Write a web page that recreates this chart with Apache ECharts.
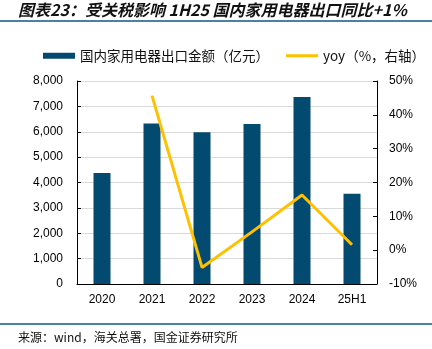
<!DOCTYPE html>
<html><head><meta charset="utf-8">
<script src="https://cdn.jsdelivr.net/npm/echarts@6/dist/echarts.min.js"></script>
<style>html,body{margin:0;padding:0;background:#fff}#c{width:432px;height:349px}</style>
</head><body><div id="c"></div>
<script>
var categories = ['2020','2021','2022','2023','2024','25H1'];
var exportValues = [4370, 6330, 5980, 6310, 7370, 3560];
var yoyValues = [null, 45.7, -5.1, 5.4, 16.3, 1.6];
var leftTicks = [0, 1000, 2000, 3000, 4000, 5000, 6000, 7000, 8000];
var rightTicks = [-10, 0, 10, 20, 30, 40, 50];
var barName = '国内家用电器出口金额（亿元）';
var lineName = 'yoy（%，右轴）';

var chart = echarts.init(document.getElementById('c'));
var axisFont = {fontFamily: 'Liberation Sans, Arial', fontSize: 12, color: '#000'};
chart.setOption({
  animation: false,
  textStyle: {fontFamily: 'Liberation Sans, Noto Sans CJK SC'},
  graphic: [
    {type: 'text', left: 18, top: 2, style: {text: '图表23：受关税影响 1H25 国内家用电器出口同比+1%', font: 'italic bold 16px "Noto Sans CJK SC"', fill: '#111'}},
    {type: 'rect', shape: {x: 0, y: 20, width: 432, height: 2}, style: {fill: '#4c7fa0'}},
    {type: 'rect', shape: {x: 0, y: 323, width: 432, height: 2}, style: {fill: '#4c7fa0'}},
    {type: 'text', left: 18, top: 331, style: {text: '来源：wind，海关总署，国金证券研究所', font: '12px "Noto Sans CJK SC"', fill: '#111'}}
  ],
  legend: {
    left: 43, top: 49, width: 420, padding: 0, itemWidth: 32, itemHeight: 6, itemGap: 17,
    textStyle: {fontFamily: 'Noto Sans CJK SC, Liberation Sans', fontSize: 13.5, color: '#111'},
    data: [
      {name: barName, icon: 'rect'},
      {name: lineName, icon: 'path://M0,0H32V3H0Z', itemStyle: {color: '#ffc000'}}
    ]
  },
  grid: {left: 77, right: 55, top: 81, bottom: 65},
  xAxis: {
    type: 'category', data: categories,
    axisLine: {lineStyle: {color: '#000', width: 1}},
    axisTick: {inside: true, length: 4, lineStyle: {color: '#000'}},
    axisLabel: Object.assign({margin: 10}, axisFont)
  },
  yAxis: [
    {type: 'value', min: 0, max: 8000, interval: 1000,
     axisLine: {show: true, lineStyle: {color: '#000'}},
     axisTick: {show: true, inside: true, length: 4, lineStyle: {color: '#000'}},
     splitLine: {lineStyle: {color: '#d9d9d9'}},
     axisLabel: Object.assign({margin: 14, formatter: function(v){return v.toLocaleString('en-US');}}, axisFont)},
    {type: 'value', min: -10, max: 50, interval: 10,
     axisLine: {show: true, lineStyle: {color: '#000'}},
     axisTick: {show: true, inside: true, length: 4, lineStyle: {color: '#000'}},
     splitLine: {show: false},
     axisLabel: Object.assign({margin: 12, formatter: '{value}%'}, axisFont)}
  ],
  series: [
    {name: barName, type: 'bar', data: exportValues, barWidth: '34%', itemStyle: {color: '#024a6f'}},
    {name: lineName, type: 'line', yAxisIndex: 1, data: yoyValues, symbol: 'none', lineStyle: {color: '#ffc000', width: 3}, itemStyle: {color: '#ffc000'}}
  ]
});
</script></body></html>
